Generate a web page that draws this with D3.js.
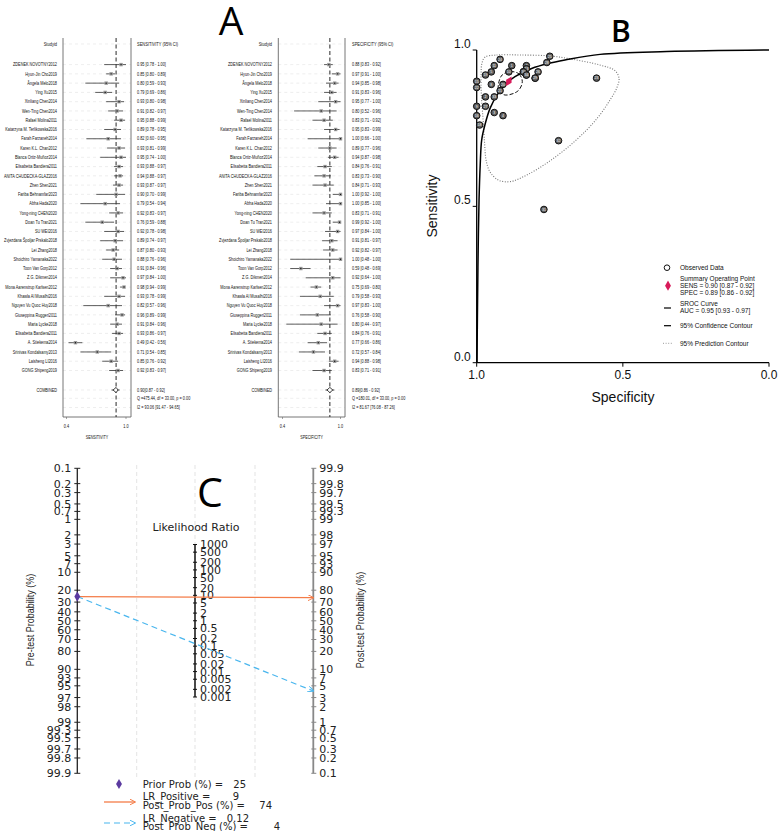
<!DOCTYPE html>
<html><head><meta charset="utf-8">
<script src="https://cdn.jsdelivr.net/npm/d3@7"></script>
<style>body{margin:0;background:#fff}svg{display:block}</style>
</head><body>
<svg id="c" width="778" height="831"></svg>
<script>
// ---------------- DATA ----------------
const studies = ["ZDENEK NOVOTNY2012","Hyun-Jin Cho2019","Ângela Melo2018","Ying Xu2015","Xinliang Chen2014","Wen-Ting Chen2014","Rafael Molina2011","Katarzyna M. Terlikowska2016","Farah Farzaneh2014","Karen K.L. Chan2012","Blanca Ortiz-Muñoz2014","Elisabetta Bandiera2011","ANITA CHUDECKA-GLAZ2016","Zhen Shen2021","Fariba Behnamfar2023","Abha Hada2020","Yong-ning CHEN2020","Doan Tu Tran2021","SU WEI2016","Zvjezdana Špoljar Prskalo2018","Lei Zhang2018","Shoichiro Yamanaka2022","Toon Van Gorp2012","Z.G. Dikmen2014","Mona Aarenstrup Karlsen2012","Khawla Al Musalhi2016","Nguyen Vu Quoc Huy2018","Giuseppina Ruggeri2011","Maria Lycke2018","Elisabetta Bandiera2011","A. Stiekema2014","Srinivas Kondalsamy2013","Laisheng LI2016","GONG Shipeng2019"];
const sensVal = [0.95,0.85,0.80,0.79,0.93,0.91,0.95,0.89,0.82,0.93,0.95,0.93,0.94,0.93,0.90,0.79,0.92,0.76,0.92,0.89,0.87,0.88,0.91,0.97,0.98,0.93,0.82,0.96,0.91,0.93,0.49,0.71,0.85,0.92];
const sensLo  = [0.78,0.80,0.59,0.69,0.80,0.82,0.88,0.78,0.60,0.81,0.74,0.88,0.88,0.87,0.70,0.54,0.83,0.59,0.78,0.74,0.80,0.76,0.84,0.84,0.94,0.78,0.57,0.89,0.84,0.86,0.42,0.54,0.76,0.83];
const sensHi  = [1.00,0.89,0.93,0.86,0.98,0.97,0.99,0.95,0.95,0.99,1.00,0.97,0.97,0.97,0.99,0.94,0.97,0.88,0.98,0.97,0.93,0.96,0.96,1.00,0.99,0.99,0.96,0.99,0.96,0.97,0.56,0.85,0.92,0.97];
const specVal = [0.88,0.97,0.94,0.91,0.95,0.80,0.83,0.95,1.00,0.89,0.94,0.84,0.83,0.84,1.00,1.00,0.83,0.99,0.97,0.91,0.92,1.00,0.59,0.92,0.75,0.79,0.97,0.76,0.80,0.84,0.77,0.72,0.94,0.83];
const specLo  = [0.83,0.91,0.85,0.83,0.77,0.52,0.71,0.83,0.66,0.77,0.87,0.76,0.73,0.71,0.92,0.85,0.71,0.92,0.84,0.81,0.82,0.48,0.48,0.64,0.69,0.58,0.83,0.58,0.44,0.76,0.66,0.57,0.88,0.71];
const specHi  = [0.92,1.00,0.98,0.96,1.00,0.96,0.92,0.99,1.00,0.96,0.98,0.91,0.90,0.93,1.00,1.00,0.91,1.00,1.00,0.97,0.97,1.00,0.69,1.00,0.80,0.93,1.00,0.90,0.97,0.91,0.86,0.84,0.98,0.91];
const sensPooled = [0.90,0.87,0.92];
const specPooled = [0.89,0.86,0.92];
const sensHet = ["Q =475.44, df = 33.00, p = 0.00","I2 = 93.06 [91.47 - 94.65]"];
const specHet = ["Q =180.01, df = 33.00, p = 0.00","I2 = 81.67 [76.08 - 87.26]"];
const forestTicks = [0.4, 1.0];

// SROC curve, contours (specificity, sensitivity)
const srocSpec = [0.999,0.998,0.997,0.995,0.992,0.988,0.983,0.972,0.954,0.926,0.897,0.869,0.812,0.755,0.698,0.578,0.35,0.0];
const srocSens = [0.0,0.105,0.2,0.36,0.52,0.632,0.712,0.76,0.814,0.862,0.894,0.915,0.941,0.957,0.968,0.986,0.995,1.0];
const confSpec = [0.880,0.855,0.844,0.859,0.903,0.924,0.926,0.913];
const confSens = [0.931,0.923,0.899,0.869,0.856,0.869,0.888,0.920];
const predSpec = [0.972,0.932,0.852,0.749,0.670,0.579,0.527,0.513,0.521,0.544,0.579,0.624,0.692,0.761,0.829,0.886,0.926,0.955,0.968,0.973,0.978,0.984,0.985,0.982];
const predSens = [0.977,0.984,0.984,0.981,0.970,0.952,0.934,0.909,0.878,0.840,0.792,0.744,0.686,0.638,0.600,0.579,0.584,0.611,0.648,0.702,0.776,0.856,0.925,0.958];
const bTicks = [1.0, 0.5, 0.0];
const summarySens = 0.90, summarySpec = 0.89;
const legendB = ["Observed Data","Summary Operating Point","SENS = 0.90 [0.87 - 0.92]","SPEC = 0.89 [0.86 - 0.92]","SROC Curve","AUC = 0.95 [0.93 - 0.97]","95% Confidence Contour","95% Prediction Contour"];

// Fagan nomogram
const probTicks = [0.1,0.2,0.3,0.5,0.7,1,2,3,5,7,10,20,30,40,50,60,70,80,90,93,95,97,98,99,99.3,99.5,99.7,99.8,99.9];
const lrTicks = [1000,500,200,100,50,20,10,5,2,1,0.5,0.2,0.1,0.05,0.02,0.01,0.005,0.002,0.001];
const priorProb = 25, lrPos = 9, postPos = 74, lrNeg = 0.12, postNeg = 4;

// ---------------- DRAW ----------------
const svg = d3.select("#c");
svg.append("rect").attr("width",778).attr("height",831).attr("fill","#fff");
const f2 = d3.format(".2f");
const NARROW = 0.8;
const SANS = "Liberation Sans, Arial, sans-serif";

function ntext(sel, xf, yf, size, anchor, txt){
  return sel.append("text")
    .attr("transform",(d,i)=>`translate(${typeof xf==="function"?xf(d,i):xf},${typeof yf==="function"?yf(d,i):yf}) scale(${NARROW},1)`)
    .attr("dy","0.35em").attr("text-anchor",anchor)
    .attr("font-family",SANS).attr("font-size",size).attr("fill","#111").text(txt);
}

function forest(o){
  const x = d3.scaleLinear().domain(d3.extent(forestTicks)).range([o.x04, o.x10]);
  const y = d3.scaleLinear().domain([0, studies.length-1]).range([64.6, 370.5]);
  const g = svg.append("g");
  const top = 38, bot = 417, yComb = 390;
  const rows = studies.map((s,i)=>y(i)).concat([44, yComb, 398.3, 407.5]);
  g.selectAll(".gr").data(rows).join("line")
    .attr("x1",o.boxL).attr("x2",o.boxR).attr("y1",d=>d).attr("y2",d=>d)
    .attr("stroke","#e2e2e2").attr("stroke-width",0.6).attr("stroke-dasharray","3,3");
  g.append("path").attr("d",`M${o.boxL},${top}V${bot}H${o.boxR}V${top}`)
    .attr("fill","none").attr("stroke","#666").attr("stroke-width",0.9);
  g.selectAll(".tk").data(forestTicks).join("line")
    .attr("x1",d=>x(d)).attr("x2",d=>x(d)).attr("y1",bot).attr("y2",bot+2)
    .attr("stroke","#666").attr("stroke-width",0.6);
  const tl = g.selectAll(".tl").data(forestTicks).join("g");
  ntext(tl, d=>x(d), 426, 4.8, "middle", d=>d3.format(".1f")(d));
  ntext(g, (o.boxL+o.boxR)/2, 437, 4.6, "middle", o.axisTitle);
  g.append("line").attr("x1",x(o.pooled[0])).attr("x2",x(o.pooled[0])).attr("y1",top).attr("y2",bot)
    .attr("stroke","#111").attr("stroke-width",0.9).attr("stroke-dasharray","4,2.5");
  ntext(g, o.labelX, 44, 5, "end", "Studyid");
  ntext(g, o.ciX, 44, 5, "start", o.header);
  const rg = g.selectAll(".row").data(studies).join("g");
  ntext(rg, o.labelX, (d,i)=>y(i), 4.8, "end", d=>d);
  rg.append("line").attr("x1",(d,i)=>x(o.lo[i])).attr("x2",(d,i)=>x(o.hi[i]))
    .attr("y1",(d,i)=>y(i)).attr("y2",(d,i)=>y(i)).attr("stroke","#333").attr("stroke-width",0.8);
  rg.append("rect").attr("x",(d,i)=>x(o.val[i])-1.7).attr("y",(d,i)=>y(i)-1.7)
    .attr("width",3.4).attr("height",3.4).attr("fill","#9a9a9a");
  rg.append("circle").attr("cx",(d,i)=>x(o.val[i])).attr("cy",(d,i)=>y(i)).attr("r",0.7).attr("fill","#111");
  ntext(rg, o.ciX, (d,i)=>y(i), 4.8, "start", (d,i)=>`${f2(o.val[i])} [${f2(o.lo[i])} - ${f2(o.hi[i])}]`);
  ntext(g, o.labelX, yComb, 4.8, "end", "COMBINED");
  const p = o.pooled;
  g.append("line").attr("x1",x(p[1])-1.5).attr("x2",x(p[2])+1.5).attr("y1",yComb).attr("y2",yComb)
    .attr("stroke","#111").attr("stroke-width",0.8);
  g.append("path").attr("d",`M${x(p[1])},${yComb}L${x(p[0])},${yComb-2.6}L${x(p[2])},${yComb}L${x(p[0])},${yComb+2.6}Z`)
    .attr("fill","#fff").attr("stroke","#111").attr("stroke-width",0.8);
  ntext(g, o.ciX, yComb, 4.8, "start", `${f2(p[0])}[${f2(p[1])} - ${f2(p[2])}]`);
  o.het.forEach((t,k)=>ntext(g, o.ciX, 398.3+k*9.2, 4.8, "start", t));
}
forest({x04:66.5,x10:126,boxL:63,boxR:131,labelX:57,ciX:137,val:sensVal,lo:sensLo,hi:sensHi,
  pooled:sensPooled,het:sensHet,header:"SENSITIVITY (95% CI)",axisTitle:"SENSITIVITY"});
forest({x04:282.5,x10:340.5,boxL:278.3,boxR:345,labelX:272,ciX:352,val:specVal,lo:specLo,hi:specHi,
  pooled:specPooled,het:specHet,header:"SPECIFICITY (95% CI)",axisTitle:"SPECIFICITY"});

// Panel letters
svg.append("text").attr("x",231).attr("y",35).attr("text-anchor","middle")
  .attr("font-family","Open Sans, Liberation Sans").attr("font-size",39).attr("fill","#000").text("A");
svg.append("text").attr("x",621).attr("y",42).attr("text-anchor","middle")
  .attr("font-family","Open Sans, Liberation Sans").attr("font-weight",600).attr("font-size",30).attr("fill","#000").text("B");
svg.append("text").attr("x",210).attr("y",507).attr("text-anchor","middle")
  .attr("font-family","Open Sans, Liberation Sans").attr("font-size",41).attr("fill","#000").text("C");

// ---------------- Panel B ----------------
(function(){
  const xB = d3.scaleLinear().domain([1,0]).range([476.7,769]);
  const yB = d3.scaleLinear().domain([0,1]).range([362.7,50]);
  const g = svg.append("g");
  const af = SANS;
  g.append("line").attr("x1",xB(1)).attr("x2",xB(1)).attr("y1",yB(1)).attr("y2",yB(0)).attr("stroke","#000").attr("stroke-width",1.3);
  g.append("line").attr("x1",xB(1)).attr("x2",xB(0)).attr("y1",yB(0)).attr("y2",yB(0)).attr("stroke","#000").attr("stroke-width",1.3);
  g.selectAll(".yt").data(bTicks).join("line").attr("x1",xB(1)-4).attr("x2",xB(1)).attr("y1",d=>yB(d)).attr("y2",d=>yB(d)).attr("stroke","#000");
  g.selectAll(".xt").data(bTicks).join("line").attr("x1",d=>xB(d)).attr("x2",d=>xB(d)).attr("y1",yB(0)).attr("y2",yB(0)+4).attr("stroke","#000");
  g.selectAll(".yl").data(bTicks).join("text").attr("x",xB(1)-6).attr("y",d=>yB(d)-2).attr("text-anchor","end")
    .attr("font-family",af).attr("font-size",12).attr("fill","#111").text(d=>d3.format(".1f")(d));
  g.selectAll(".xl").data(bTicks).join("text").attr("x",d=>xB(d)).attr("y",yB(0)+16).attr("text-anchor","middle")
    .attr("font-family",af).attr("font-size",12).attr("fill","#111").text(d=>d3.format(".1f")(d));
  g.append("text").attr("x",623).attr("y",402).attr("text-anchor","middle").attr("font-family",af).attr("font-size",14).attr("fill","#111").text("Specificity");
  g.append("text").attr("transform","translate(437,206) rotate(-90)").attr("text-anchor","middle").attr("font-family",af).attr("font-size",14).attr("fill","#111").text("Sensitivity");

  const line = d3.line().x(d=>xB(d[0])).y(d=>yB(d[1]));
  g.append("path").attr("d",line.curve(d3.curveCatmullRomClosed.alpha(0.5))(predSpec.map((s,i)=>[s,predSens[i]])))
    .attr("fill","none").attr("stroke","#777").attr("stroke-width",1.1).attr("stroke-dasharray","1,1.6");
  g.append("path").attr("d",line.curve(d3.curveCatmullRomClosed.alpha(0.5))(confSpec.map((s,i)=>[s,confSens[i]])))
    .attr("fill","none").attr("stroke","#111").attr("stroke-width",1).attr("stroke-dasharray","4,2");
  g.append("path").attr("d",line.curve(d3.curveCatmullRom.alpha(0.5))(srocSpec.map((s,i)=>[s,srocSens[i]])))
    .attr("fill","none").attr("stroke","#000").attr("stroke-width",1.5);

  const pg = g.selectAll(".pt").data(studies).join("g").attr("transform",(d,i)=>`translate(${xB(specVal[i])},${yB(sensVal[i])})`);
  pg.append("circle").attr("r",3.3).attr("fill","#5e5e5e").attr("stroke","#111").attr("stroke-width",1);
  pg.append("text").attr("text-anchor","middle").attr("dy","0.35em").attr("font-family",af).attr("font-size",3.6).attr("fill","#fff").text((d,i)=>i+1);

  g.append("path").attr("d",d3.symbol(d3.symbolDiamond,34)())
    .attr("transform",`translate(${xB(summarySpec)},${yB(summarySens)}) rotate(30)`).attr("fill","#d81b5a");

  const lx = 680, ly = [267.7,278.3,285.7,293,303.3,310.7,325.7,343.3];
  g.selectAll(".lt").data(legendB).join("text").attr("x",lx).attr("y",(d,i)=>ly[i]).attr("dy","0.35em")
    .attr("font-family",af).attr("font-size",6.5).attr("fill","#111").text(d=>d);
  g.append("circle").attr("cx",667).attr("cy",ly[0]).attr("r",2.8).attr("fill","#fff").attr("stroke","#111").attr("stroke-width",1);
  g.append("path").attr("d",d3.symbol(d3.symbolDiamond,30)()).attr("transform",`translate(668,${ly[2]})`).attr("fill","#d81b5a");
  g.append("line").attr("x1",664).attr("x2",671).attr("y1",308).attr("y2",308).attr("stroke","#000").attr("stroke-width",1.2);
  g.append("line").attr("x1",664).attr("x2",671).attr("y1",ly[6]).attr("y2",ly[6]).attr("stroke","#000").attr("stroke-width",1.2);
  g.append("line").attr("x1",663).attr("x2",672).attr("y1",ly[7]).attr("y2",ly[7]).attr("stroke","#999").attr("stroke-width",1).attr("stroke-dasharray","1,1.6");
})();

// ---------------- Panel C ----------------
(function(){
  const logit = p => Math.log(p/(1-p));
  const dom = [logit(0.001), logit(0.999)];
  const yPre = d3.scaleLinear().domain(dom).range([468.3,773.3]);
  const yPost = d3.scaleLinear().domain(dom).range([773.3,468.3]);
  const yLR = d3.scaleLog().domain([0.001,1000]).range([697,544.5]);
  const xL = 77.3, xM = 195, xR = 313.3;
  const g = svg.append("g");
  const nf = "DejaVu Sans";
  const fmt = v => String(v);
  g.selectAll(".vg").data([136.7, xM, 255]).join("line").attr("x1",d=>d).attr("x2",d=>d).attr("y1",465).attr("y2",778)
    .attr("stroke","#dcdcdc").attr("stroke-width",0.8).attr("stroke-dasharray","4,3");
  g.append("line").attr("x1",xL).attr("x2",xL).attr("y1",yPre(logit(0.001))).attr("y2",yPre(logit(0.999))).attr("stroke","#222").attr("stroke-width",1.3);
  g.selectAll(".lt").data(probTicks).join("line").attr("x1",xL-3).attr("x2",xL+3)
    .attr("y1",d=>yPre(logit(d/100))).attr("y2",d=>yPre(logit(d/100))).attr("stroke","#222").attr("stroke-width",1);
  g.selectAll(".ll").data(probTicks).join("text").attr("x",xL-6).attr("y",d=>yPre(logit(d/100))).attr("dy","0.36em")
    .attr("text-anchor","end").attr("font-family",nf).attr("font-size",11).attr("fill","#222").text(fmt);
  g.append("line").attr("x1",xR).attr("x2",xR).attr("y1",yPost(logit(0.001))).attr("y2",yPost(logit(0.999))).attr("stroke","#888").attr("stroke-width",1.8);
  g.selectAll(".rt").data(probTicks).join("line").attr("x1",xR-2).attr("x2",xR+3)
    .attr("y1",d=>yPost(logit(d/100))).attr("y2",d=>yPost(logit(d/100))).attr("stroke","#888").attr("stroke-width",1);
  g.selectAll(".rl").data(probTicks).join("text").attr("x",xR+6).attr("y",d=>yPost(logit(d/100))).attr("dy","0.36em")
    .attr("font-family",nf).attr("font-size",11).attr("fill","#222").text(fmt);
  g.append("line").attr("x1",xM).attr("x2",xM).attr("y1",yLR(1000)).attr("y2",yLR(0.001)).attr("stroke","#111").attr("stroke-width",1.5);
  g.selectAll(".mt").data(lrTicks).join("line").attr("x1",xM-2).attr("x2",xM+2)
    .attr("y1",d=>yLR(d)).attr("y2",d=>yLR(d)).attr("stroke","#111").attr("stroke-width",1);
  g.selectAll(".ml").data(lrTicks).join("text").attr("x",xM+5).attr("y",d=>yLR(d)).attr("dy","0.36em")
    .attr("font-family",nf).attr("font-size",11).attr("fill","#222").text(fmt);
  g.append("text").attr("x",196).attr("y",527).attr("dy","0.35em").attr("text-anchor","middle")
    .attr("font-family",nf).attr("font-size",11).attr("fill","#222").text("Likelihood Ratio");
  g.append("text").attr("transform",`translate(30,620) rotate(-90) scale(0.82,1)`).attr("text-anchor","middle").attr("dy","0.35em")
    .attr("font-family",SANS).attr("font-size",11).attr("fill","#222").text("Pre-test Probability (%)");
  g.append("text").attr("transform",`translate(360,620) rotate(-90) scale(0.82,1)`).attr("text-anchor","middle").attr("dy","0.35em")
    .attr("font-family",SANS).attr("font-size",11).attr("fill","#222").text("Post-test Probability (%)");

  const defs = svg.append("defs");
  [["aO","#f47c48"],["aB","#49b6ee"]].forEach(([id,c])=>{
    defs.append("marker").attr("id",id).attr("viewBox","0 0 10 10").attr("refX",9).attr("refY",5)
      .attr("markerWidth",6).attr("markerHeight",6).attr("markerUnits","userSpaceOnUse").attr("orient","auto")
      .append("path").attr("d","M0,0L10,5L0,10").attr("fill","none").attr("stroke",c).attr("stroke-width",1.6);
  });
  const y0 = yPre(logit(priorProb/100));
  g.append("line").attr("x1",xL).attr("y1",y0).attr("x2",xR).attr("y2",yPost(logit(postPos/100)))
    .attr("stroke","#f47c48").attr("stroke-width",1.3).attr("marker-end","url(#aO)");
  g.append("line").attr("x1",xL).attr("y1",y0).attr("x2",xR).attr("y2",yPost(logit(postNeg/100)))
    .attr("stroke","#49b6ee").attr("stroke-width",1.2).attr("stroke-dasharray","6,4").attr("marker-end","url(#aB)");
  g.append("path").attr("d",d3.symbol(d3.symbolDiamond,30)()).attr("transform",`translate(${xL},${y0})`).attr("fill","#5b3aa0");

  const t = (x,y,s,anchor)=>g.append("text").attr("x",x).attr("y",y).attr("dy","0.35em").attr("text-anchor",anchor||"start")
    .attr("font-family",nf).attr("font-size",10).attr("fill","#222").text(s);
  g.append("path").attr("d",d3.symbol(d3.symbolDiamond,30)()).attr("transform","translate(119,784)").attr("fill","#5b3aa0");
  t(142.7,784,"Prior Prob (%) ="); t(246,784,String(priorProb),"end");
  t(142.7,796.5,"LR_Positive ="); t(239,796.5,String(lrPos),"end");
  t(142.7,805.3,"Post_Prob_Pos (%) ="); t(272,805.3,String(postPos),"end");
  t(142.7,818,"LR_Negative ="); t(249,818,String(lrNeg),"end");
  t(142.7,826.5,"Post_Prob_Neg (%) ="); t(280,826.5,String(postNeg),"end");
  g.append("line").attr("x1",104).attr("x2",135).attr("y1",802).attr("y2",802).attr("stroke","#f47c48").attr("stroke-width",1.3).attr("marker-end","url(#aO)");
  g.append("line").attr("x1",104).attr("x2",135).attr("y1",823).attr("y2",823).attr("stroke","#49b6ee").attr("stroke-width",1.2).attr("stroke-dasharray","6,4").attr("marker-end","url(#aB)");
})();
</script>
</body></html>
